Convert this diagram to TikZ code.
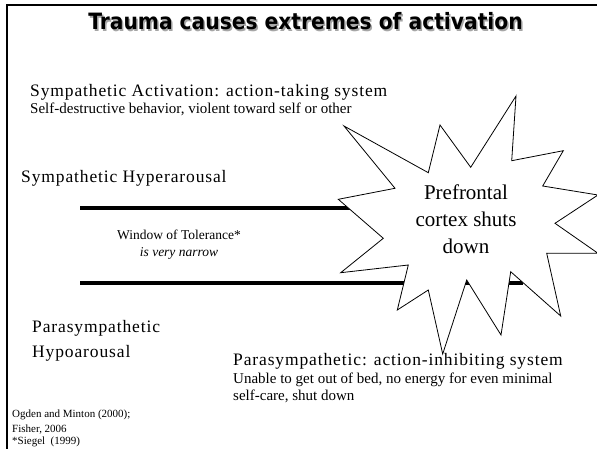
\documentclass[tikz,border=0pt]{standalone}
\usepackage{fontspec}
\setmainfont{Liberation Serif}
\newfontfamily\spacedserif[LetterSpace=5]{Liberation Serif}
\newfontfamily\titlefont[FakeStretch=0.9]{DejaVu Sans Bold}
\begin{document}
\begin{tikzpicture}[x=1pt,y=-1pt,
  heading/.style={anchor=base, inner sep=0pt, font=\titlefont\fontsize{22.5}{27}\selectfont},
  bigtext/.style={anchor=base west, inner sep=0pt, font=\spacedserif\fontsize{17.5}{21}\selectfont},
  smalltext/.style={anchor=base west, inner sep=0pt, font=\fontsize{15}{18}\selectfont},
  windowtext/.style={anchor=base, inner sep=0pt, font=\fontsize{13.5}{16}\selectfont},
  burst/.style={draw=black, fill=white, line width=0.8pt, line join=miter},
  bursttext/.style={anchor=base, inner sep=0pt, font=\fontsize{21}{26}\selectfont},
  citetext/.style={anchor=base west, inner sep=0pt, font=\fontsize{11}{13}\selectfont},
  bound/.style={line width=3.5pt},
  frame/.style={line width=2pt}
]
\useasboundingbox[fill=white] (0,0) rectangle (597,449);

% slide frame (left and top edges)
\coordinate (fb) at (6.5,449);
\coordinate (fc) at (6.5,5.5);
\coordinate (fr) at (597,5.5);
\draw[frame] (fb) -- (fc) -- (fr);

% title with soft shadow
\node[heading, text=black!35] (titleshadow) at (307,31.5) {Trauma causes extremes of activation};
\node[heading] (title) at (305.5,30) {Trauma causes extremes of activation};

% window of tolerance boundaries
\coordinate (upl) at (80,208);
\coordinate (upr) at (523,208);
\coordinate (lol) at (80,283);
\coordinate (lor) at (523,283);
\draw[bound] (upl) -- (upr);
\draw[bound] (lol) -- (lor);

% explosion burst
\draw[burst] (516,96) -- (511.7,160.7) -- (563.3,150.7) -- (542.7,186) -- (598,195)
  -- (555,223.3) -- (598,253.3) -- (546.7,253.3) -- (560.7,316) -- (510.7,271.7)
  -- (501,335) -- (466.7,280) -- (442.7,354) -- (428.3,290) -- (397.3,310)
  -- (408.3,265) -- (340.7,272.7) -- (383.3,238.3) -- (338.3,199.3) -- (395,188.3)
  -- (344,126) -- (428.3,172.7) -- (440,125) -- (470.7,167.3) -- cycle;
\node[bursttext] (pf1) at (466,200) {Prefrontal};
\node[bursttext] (pf2) at (466,227) {cortex shuts};
\node[bursttext] (pf3) at (466,253) {down};

% sympathetic side
\node[bigtext] (symact) at (30,97) {Sympathetic Activation: action-taking system};
\node[smalltext] (symdesc) at (30,114) {Self-destructive behavior, violent toward self or other};
\node[bigtext] (hyper) at (21,183) {Sympathetic Hyperarousal};

% window
\node[windowtext] (win1) at (179,240) {Window of Tolerance*};
\node[windowtext, font=\itshape\fontsize{13.5}{16}\selectfont] (win2) at (179,257) {is very narrow};

% parasympathetic side
\node[bigtext] (hypo1) at (32,332) {Parasympathetic};
\node[bigtext] (hypo2) at (32,357) {Hypoarousal};
\node[bigtext] (paract) at (233,365) {Parasympathetic: action-inhibiting system};
\node[smalltext] (pardesc1) at (233,383) {Unable to get out of bed, no energy for even minimal};
\node[smalltext] (pardesc2) at (233,400) {self-care, shut down};

% references
\node[citetext] (ref1) at (12,417) {Ogden and Minton (2000);};
\node[citetext] (ref2) at (12,432) {Fisher, 2006};
\node[citetext] (ref3) at (12,444.5) {*Siegel\ \ (1999)};
\end{tikzpicture}
\end{document}
